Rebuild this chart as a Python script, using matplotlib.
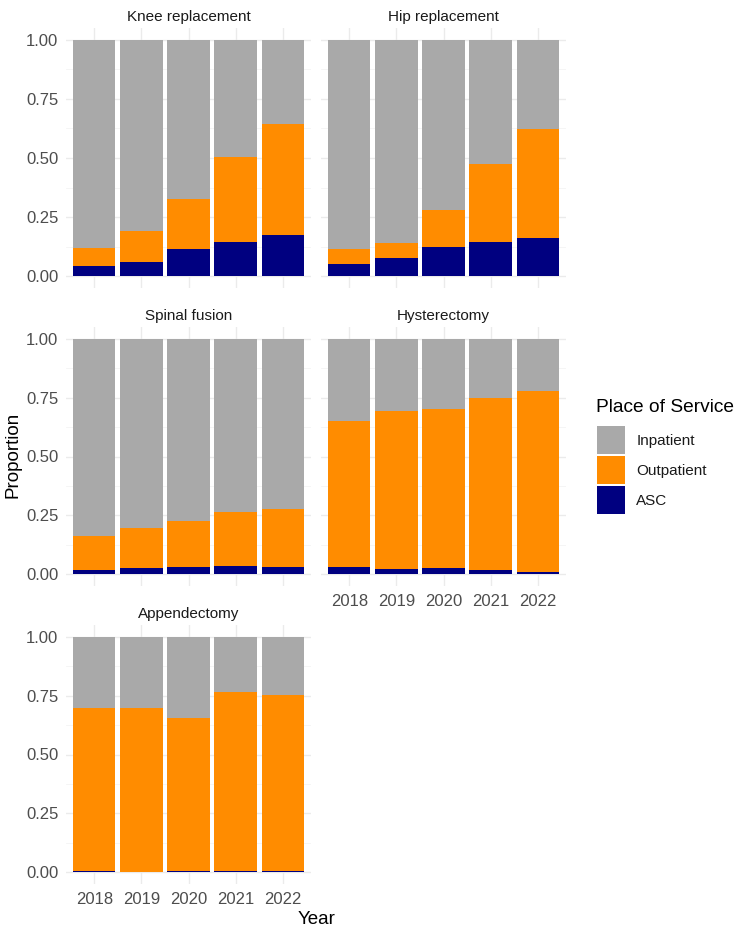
import matplotlib
matplotlib.use("Agg")
import matplotlib.pyplot as plt
import numpy as np
from matplotlib.patches import Patch

plt.rcParams['font.family'] = ['Liberation Sans', 'DejaVu Sans']

years = ["2018", "2019", "2020", "2021", "2022"]
procedures = ["Knee replacement", "Hip replacement", "Spinal fusion", "Hysterectomy", "Appendectomy"]

# cumulative tops: ASC share and ASC+Outpatient share
asc_knee = [0.042, 0.062, 0.116, 0.143, 0.174]
outtop_knee = [0.121, 0.192, 0.325, 0.503, 0.645]
asc_hip = [0.050, 0.079, 0.123, 0.146, 0.163]
outtop_hip = [0.115, 0.139, 0.282, 0.473, 0.622]
asc_spine = [0.018, 0.025, 0.031, 0.033, 0.031]
outtop_spine = [0.164, 0.198, 0.228, 0.266, 0.278]
asc_hyst = [0.031, 0.021, 0.027, 0.016, 0.010]
outtop_hyst = [0.652, 0.694, 0.701, 0.749, 0.780]
asc_app = [0.006, 0.002, 0.004, 0.004, 0.007]
outtop_app = [0.699, 0.699, 0.656, 0.767, 0.751]

asc_all = [asc_knee, asc_hip, asc_spine, asc_hyst, asc_app]
outtop_all = [outtop_knee, outtop_hip, outtop_spine, outtop_hyst, outtop_app]

col_inp = "#A9A9A9"
col_out = "#FF8C00"
col_asc = "#000080"

W, H = 741, 934
fig = plt.figure(figsize=(W / 100, H / 100), dpi=100)

def ax_at(x0, y0, x1, y1):
    return fig.add_axes([x0 / W, 1 - y1 / H, (x1 - x0) / W, (y1 - y0) / H])

cols = [(66, 311), (321, 566)]
rows = [(28, 288), (327, 586), (625, 884)]
positions = [(0, 0), (0, 1), (1, 0), (1, 1), (2, 0)]

for i, proc in enumerate(procedures):
    r, c = positions[i]
    ax = ax_at(cols[c][0], rows[r][0], cols[c][1], rows[r][1])
    x = np.arange(1, 6)
    asc = np.array(asc_all[i])
    outtop = np.array(outtop_all[i])
    ax.bar(x, 1.0 - outtop, bottom=outtop, width=0.9, color=col_inp, linewidth=0, zorder=3)
    ax.bar(x, outtop - asc, bottom=asc, width=0.9, color=col_out, linewidth=0, zorder=3)
    ax.bar(x, asc, width=0.9, color=col_asc, linewidth=0, zorder=3)
    ax.set_xlim(0.4, 5.6)
    ax.set_ylim(-0.05, 1.05)
    ax.set_xticks(x)
    ax.set_yticks([0, 0.25, 0.5, 0.75, 1.0])
    ax.set_yticks([0.125, 0.375, 0.625, 0.875], minor=True)
    ax.grid(True, which='major', color='#EBEBEB', linewidth=1.0, zorder=0)
    ax.grid(True, which='minor', axis='y', color='#F4F4F4', linewidth=0.6, zorder=0)
    for s in ax.spines.values():
        s.set_visible(False)
    ax.tick_params(which='both', length=0, labelsize=12, labelcolor='#4D4D4D', pad=5.5)
    if c == 0:
        ax.set_yticklabels(["0.00", "0.25", "0.50", "0.75", "1.00"])
    else:
        ax.set_yticklabels([])
    if proc in ("Hysterectomy", "Appendectomy"):
        ax.set_xticklabels(years)
        ax.tick_params(axis='x', pad=6)
    else:
        ax.set_xticklabels([])
    ax.set_title(proc, fontsize=11, color='#1A1A1A', pad=5)

fig.text(13 / W, 1 - 455 / H, "Proportion", rotation=90, fontsize=13.5,
         ha='center', va='center', color='black')
fig.text(317 / W, 1 - 920 / H, "Year", fontsize=13.5, ha='center', va='center', color='black')

fig.text(596 / W, 1 - 407 / H, "Place of Service", fontsize=13.8,
         ha='left', va='center', color='black')
handles = [Patch(facecolor=col_inp, edgecolor='none', label="Inpatient"),
           Patch(facecolor=col_out, edgecolor='none', label="Outpatient"),
           Patch(facecolor=col_asc, edgecolor='none', label="ASC")]
leg = fig.legend(handles=handles, loc='upper left',
                 bbox_to_anchor=(597 / W, 1 - 426 / H), frameon=False,
                 fontsize=11, handlelength=1.83, handleheight=2.44,
                 handletextpad=0.75, labelspacing=0.13, borderaxespad=0, borderpad=0)
for t in leg.get_texts():
    t.set_color('#1A1A1A')

fig.savefig("out.png", dpi=100, facecolor='white')
